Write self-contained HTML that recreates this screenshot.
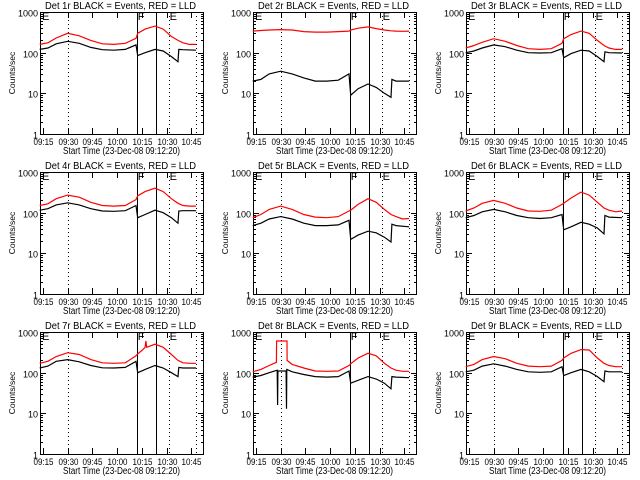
<!DOCTYPE html>
<html><head><meta charset="utf-8">
<style>
html,body{margin:0;padding:0;background:#fff;}
svg{display:block;font-family:"Liberation Sans",sans-serif;}
</style></head>
<body>
<svg id="chart" width="640" height="480" viewBox="0 0 640 480" xmlns="http://www.w3.org/2000/svg"></svg>
<script>
// ---- data ----
const tickLabels = ["09:15","09:30","09:45","10:00","10:15","10:30","10:45"];
const tickTimes = [15,30,45,60,75,90,105];
const solidLines = [71.9,83.5];
const dottedLines = [30,91.3,107.7];
const markerLabels = ["E","F","E"];
const markerTimes = [13.2,71.9,91.3];
const yTicks = [1,10,100,1000];
const detNames = ["1r","2r","3r","4r","5r","6r","7r","8r","9r"];
const redTimes = [13,18,23,30,37,44,51,58,65,71.5,72.5,77,83,88,93,97,100,104,108];
const blackTimes = [13,18,23,30,37,44,51,58,65,71.5,72.5,77,83,88,93,97,97.5,100,108];
const red1 = [160,175,230,300,260,200,165,160,170,225,300,380,450,380,250,200,175,160,160];
const black1 = [120,130,165,190,170,135,118,115,120,155,85,100,120,110,80,60,120,118,115];
const red2 = [340,350,360,370,360,330,320,320,330,340,360,400,430,390,360,345,340,335,340];
const black2 = [20,22,30,35,30,24,20,20,21,30,9,13,17,14,10,8,22,20,20];
const red3 = [130,150,180,220,190,150,125,120,125,170,220,280,340,300,200,150,130,120,120];
const black3 = [100,110,130,155,140,115,100,98,100,125,75,95,115,110,80,60,105,100,98];
const red4 = [150,165,220,270,240,180,150,145,150,210,260,330,400,330,220,170,150,145,145];
const black4 = [115,125,155,175,155,125,110,108,112,150,75,90,115,100,75,55,110,112,112];
const red5 = [75,90,120,145,120,90,78,75,80,110,115,160,220,180,120,90,80,70,72];
const black5 = [48,55,70,80,70,55,48,48,50,65,22,28,35,32,25,19,52,48,45];
const red6 = [110,130,170,200,170,130,110,108,115,160,170,230,320,270,180,130,115,105,110];
const black6 = [75,85,105,120,105,85,75,72,75,90,38,45,58,52,42,30,85,78,75];
const red7Times = [13,18,23,30,37,44,51,58,65,71.5,72.5,75,77,77.5,78,83,88,93,97,100,104,108];
const red7 = [170,190,250,310,280,210,175,170,175,260,290,350,420,600,420,500,420,280,200,175,170,170];
const black7 = [130,145,190,210,185,150,132,130,135,190,100,120,150,130,100,80,135,130,130];
const red8Times = [13,18,23,27.4,27.5,33.8,33.9,37,44,51,58,65,71.5,72.5,77,83,88,93,97,100,104,108];
const red8 = [105,120,150,180,600,600,200,160,130,110,108,110,150,165,230,300,260,170,130,115,108,108];
const black8Times = [13,18,23,27.9,28.1,28.3,33.3,33.5,33.7,37,44,51,58,65,71.5,72.5,77,83,88,93,97,97.5,100,108];
const black8 = [78,85,100,115,16,110,110,13,120,105,90,80,78,80,110,55,65,80,70,55,40,80,78,75];
const red9 = [140,160,210,250,220,170,145,140,145,200,230,300,370,360,230,170,150,140,140];
const black9 = [105,115,145,165,145,120,105,102,105,140,85,100,120,105,80,60,110,105,105];

const panels = [
 [redTimes,red1,blackTimes,black1],[redTimes,red2,blackTimes,black2],[redTimes,red3,blackTimes,black3],
 [redTimes,red4,blackTimes,black4],[redTimes,red5,blackTimes,black5],[redTimes,red6,blackTimes,black6],
 [red7Times,red7,blackTimes,black7],[red8Times,red8,black8Times,black8],[redTimes,red9,blackTimes,black9]
];

const NS="http://www.w3.org/2000/svg";
const svg=document.getElementById('chart');
function mk(tag,attrs,parent){const e=document.createElementNS(NS,tag);for(const k in attrs)e.setAttribute(k,attrs[k]);parent.appendChild(e);return e;}
const colX=[40,253,466], W=163, H=122, TOP=12;

panels.forEach((p,i)=>{
  const ox=colX[i%3], oy=Math.floor(i/3)*160;
  const g=mk('g',{},svg);
  
  
  const x=t=>ox+3+(t-15)*24.7/15;
  const y=v=>oy+TOP+H-Math.log10(v)*H/3;
  const yb=oy+TOP+H, yt=oy+TOP;
  const ti=mk('text',{x:ox+5,y:oy+9,'font-size':'10','textLength':'151','lengthAdjust':'spacingAndGlyphs',fill:'#000'},g);
  ti.textContent='Det '+detNames[i]+' BLACK = Events, RED = LLD';
  
  
  const fr=mk('rect',{x:ox+0.5,y:yt+0.5,width:W,height:H,fill:'none',stroke:'#000','stroke-width':1},g);
  
  
  yTicks.forEach(v=>{
    const yy=Math.round(y(v))+0.5;
    mk('line',{x1:ox,x2:ox+6,y1:yy,y2:yy,stroke:'#000'},g);
    mk('line',{x1:ox+W-5,x2:ox+W,y1:yy,y2:yy,stroke:'#000'},g);
    const tl=mk('text',{x:ox-2,y:yy+4,'font-size':'9','text-anchor':'end',fill:'#000'},g);
    tl.textContent=String(v);
    
    
    if(v<1000){for(let m=2;m<10;m++){const ym=Math.round(y(v*m))+0.5;
      mk('line',{x1:ox,x2:ox+3,y1:ym,y2:ym,stroke:'#000'},g);
      mk('line',{x1:ox+W-2,x2:ox+W,y1:ym,y2:ym,stroke:'#000'},g);}}
  });
  tickTimes.forEach((t,k)=>{
    const xx=Math.round(x(t))+0.5;
    mk('line',{x1:xx,x2:xx,y1:yb,y2:yb-6,stroke:'#000'},g);
    mk('line',{x1:xx,x2:xx,y1:yt,y2:yt+6,stroke:'#000'},g);
    const tl=mk('text',{x:xx-10,y:yb+11,'font-size':'9','textLength':'20','lengthAdjust':'spacingAndGlyphs',fill:'#000'},g);
    tl.textContent=tickLabels[k];
    
    
  });
  const xt=mk('text',{x:ox+23,y:yb+20,'font-size':'10','textLength':'117','lengthAdjust':'spacingAndGlyphs',fill:'#000'},g);
  xt.textContent='Start Time (23-Dec-08 09:12:20)';
  
  
  const yt2=mk('text',{x:0,y:0,'font-size':'8.5','text-anchor':'middle',fill:'#000',transform:`translate(${ox-25},${oy+73}) rotate(-90)`},g);
  yt2.textContent='Counts/sec';
  
  
  solidLines.forEach(t=>{const xx=Math.round(x(t))+0.5;
    const l=mk('line',{x1:xx,x2:xx,y1:yt,y2:yb,stroke:'#000'},g);
    
    });
  dottedLines.forEach(t=>{const xx=Math.round(x(t))+0.5;
    const l=mk('line',{x1:xx,x2:xx,y1:yt,y2:yb,stroke:'#000','stroke-dasharray':'1,3'},g);
    
    });
  markerLabels.forEach((s,k)=>{
    const ml=mk('text',{x:Math.max(ox+2,x(markerTimes[k])+1),y:yt+8,'font-size':'11',fill:'#000'},g);
    ml.textContent=s;
    
    
  });
  const [rt,rv,bt,bv]=p;
  const rl=mk('polyline',{points:rt.map((t,k)=>x(t).toFixed(1)+','+y(rv[k]).toFixed(1)).join(' '),fill:'none',stroke:'#ff0000','stroke-width':1.2},g);
  
  
  const bl=mk('polyline',{points:bt.map((t,k)=>x(t).toFixed(1)+','+y(bv[k]).toFixed(1)).join(' '),fill:'none',stroke:'#000','stroke-width':1.2},g);
  
  
});
</script>
</body></html>
